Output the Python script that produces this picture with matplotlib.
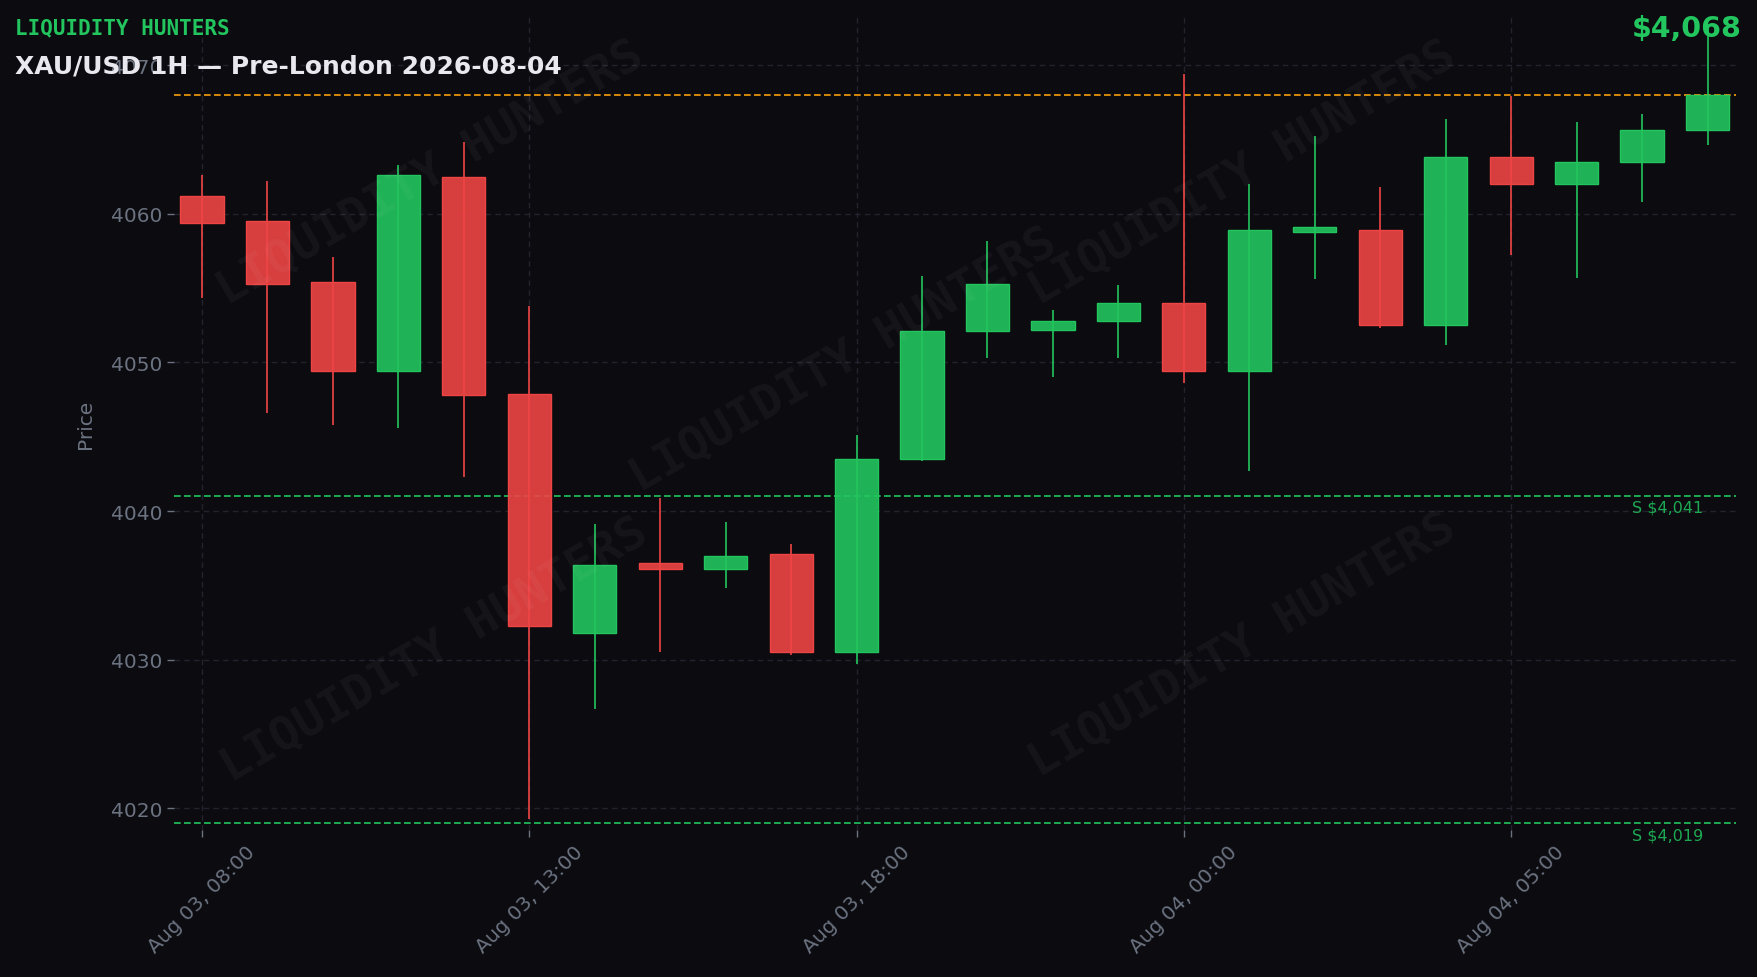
import matplotlib
matplotlib.use("Agg")
import matplotlib.pyplot as plt
from matplotlib.patches import Rectangle
from datetime import datetime

# ---------------- data ----------------
times = ["2026-08-03 08:00", "2026-08-03 09:00", "2026-08-03 10:00", "2026-08-03 11:00",
         "2026-08-03 12:00", "2026-08-03 13:00", "2026-08-03 14:00", "2026-08-03 15:00",
         "2026-08-03 16:00", "2026-08-03 17:00", "2026-08-03 18:00", "2026-08-03 19:00",
         "2026-08-03 20:00", "2026-08-03 21:00", "2026-08-03 23:00", "2026-08-04 00:00",
         "2026-08-04 01:00", "2026-08-04 02:00", "2026-08-04 03:00", "2026-08-04 04:00",
         "2026-08-04 05:00", "2026-08-04 06:00", "2026-08-04 07:00", "2026-08-04 08:00"]
opens  = [4061.2, 4059.5, 4055.4, 4049.4, 4062.5, 4047.9, 4031.8, 4036.5, 4036.1, 4037.1,
          4030.5, 4043.5, 4052.1, 4052.2, 4052.8, 4054.0, 4049.4, 4058.8, 4058.9, 4052.5,
          4063.8, 4062.0, 4063.5, 4065.6]
highs  = [4062.6, 4062.2, 4057.1, 4063.3, 4064.8, 4053.8, 4039.1, 4040.9, 4039.3, 4037.8,
          4045.1, 4055.8, 4058.2, 4053.5, 4055.2, 4069.4, 4062.0, 4065.2, 4061.8, 4066.4,
          4067.9, 4066.2, 4066.7, 4072.5]
lows   = [4054.3, 4046.6, 4045.8, 4045.6, 4042.3, 4019.3, 4026.7, 4030.5, 4034.8, 4030.3,
          4029.7, 4043.4, 4050.3, 4049.0, 4050.3, 4048.6, 4042.7, 4055.6, 4052.3, 4051.2,
          4057.2, 4055.7, 4060.8, 4064.6]
closes = [4059.4, 4055.3, 4049.4, 4062.6, 4047.8, 4032.3, 4036.4, 4036.1, 4037.0, 4030.5,
          4043.5, 4052.1, 4055.3, 4052.8, 4054.0, 4049.4, 4058.9, 4059.1, 4052.5, 4063.8,
          4062.0, 4063.5, 4065.6, 4068.0]

current_price = 4068.0
support_levels = [4041.0, 4019.0]
tick_every = 5

title = "XAU/USD 1H \u2014 Pre-London 2026-08-04"
brand = "LIQUIDITY HUNTERS"

# ---------------- style ----------------
BG = "#0b0b10"
GREEN = "#22c55e"
RED = "#ef4444"
AMBER = "#f59e0b"
GRAY = "#6b7280"
GRID = "#23232d"

fig = plt.figure(figsize=(17.58, 9.78), dpi=100, facecolor=BG)
ax = fig.add_axes([0.0989, 0.1503, 0.8884, 0.8323])
ax.set_facecolor(BG)

xs = list(range(len(opens)))
width = 0.66
for x, o, h, l, c in zip(xs, opens, highs, lows, closes):
    col = GREEN if c >= o else RED
    ax.vlines(x, l, h, color=col, linewidth=1.2, zorder=2)
    bottom = min(o, c)
    height = max(abs(c - o), 0.05)
    ax.add_patch(Rectangle((x - width / 2, bottom), width, height,
                           facecolor=col, alpha=0.9, edgecolor="none", zorder=3))
    ax.add_patch(Rectangle((x - width / 2, bottom), width, height,
                           facecolor="none", edgecolor=col, linewidth=1.0, zorder=4))

ax.axhline(current_price, color=AMBER, linestyle=(0, (4, 2)), linewidth=1.2, zorder=1)
for lvl in support_levels:
    ax.axhline(lvl, color=GREEN, linestyle=(0, (4, 2)), linewidth=1.2, zorder=1)
    ax.text(0.979, lvl - 0.25, f"S ${lvl:,.0f}", transform=ax.get_yaxis_transform(),
            ha="right", va="top", fontsize=11.5, color=GREEN, alpha=0.85)

ax.set_xlim(-0.43, len(opens) - 1 + 0.43)
ax.set_ylim(4018.55, 4073.3)

tick_pos = xs[::tick_every]
tick_lbl = [datetime.strptime(times[i], "%Y-%m-%d %H:%M").strftime("%b %d, %H:%M") for i in tick_pos]
ax.set_xticks(tick_pos)
ax.set_xticklabels(tick_lbl, rotation=45)
ax.set_yticks([4020, 4030, 4040, 4050, 4060, 4070])

ax.tick_params(colors=GRAY, labelsize=14.5, length=5, width=1)
ax.grid(True, color=GRID, linestyle=(0, (4, 3)), linewidth=1.0)
ax.set_axisbelow(True)
for s in ax.spines.values():
    s.set_visible(False)
ax.set_ylabel("Price", color=GRAY, fontsize=14.5, labelpad=11)

# header texts
fig.text(0.0085, 0.9816, brand, color=GREEN, fontsize=15, fontweight="bold",
         family="DejaVu Sans Mono", ha="left", va="top")
fig.text(0.0085, 0.9445, title, color="#e8e8ee", fontsize=18, fontweight="bold",
         ha="left", va="top")
fig.text(0.9907, 0.985, f"${current_price:,.0f}", color=GREEN, fontsize=20.5,
         fontweight="bold", ha="right", va="top")

# watermarks
for (wx, wy) in [(0.245, 0.822), (0.707, 0.822), (0.480, 0.631), (0.247, 0.335), (0.707, 0.34)]:
    fig.text(wx, wy, brand, color="white", alpha=0.045, fontsize=34, fontweight="bold",
             family="DejaVu Sans Mono", rotation=30, ha="center", va="center",
             rotation_mode="anchor")

fig.savefig("out.png", dpi=100, facecolor=BG)
